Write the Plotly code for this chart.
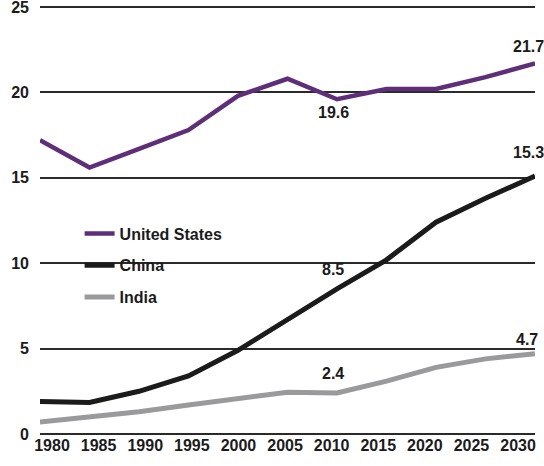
import plotly.graph_objects as go

years = [1980, 1985, 1990, 1995, 2000, 2005, 2010, 2015, 2020, 2025, 2030]
us = [17.2, 15.6, 16.7, 17.8, 19.8, 20.8, 19.6, 20.2, 20.2, 20.9, 21.7]
china = [1.9, 1.85, 2.5, 3.4, 4.9, 6.7, 8.5, 10.2, 12.4, 13.8, 15.1]
india = [0.7, 1.0, 1.3, 1.7, 2.1, 2.45, 2.4, 3.1, 3.9, 4.4, 4.7]
tick_years = [1980, 1985, 1990, 1995, 2000, 2005, 2010, 2015, 2020, 2025, 2030]
y_ticks = [0, 5, 10, 15, 20, 25]

labels = [
    (2030, 21.7, "21.7", -7, 17),
    (2010, 19.6, "19.6", -4, -13),
    (2030, 15.1, "15.3", -7, 24),
    (2010, 8.5, "8.5", -4, 19),
    (2010, 2.4, "2.4", -4, 20),
    (2030, 4.7, "4.7", -8, 14),
]

font = "Liberation Sans, Arial, Helvetica, sans-serif"
fs = 16
fig = go.Figure()
series = [("United States", us, "#5e2f78", 4.5),
          ("China", china, "#1b1b1b", 5),
          ("India", india, "#9a9a9c", 5)]
for name, vals, col, w in series:
    fig.add_trace(go.Scatter(x=years, y=vals, mode="lines", name=name,
                             legendgroup=name,
                             line=dict(color=col, width=w)))

# invisible trace to carry the label axis
fig.add_trace(go.Scatter(x=tick_years, y=[None] * len(tick_years), xaxis="x2",
                         showlegend=False, hoverinfo="skip", mode="lines"))

for x, y, t, xs, ys in labels:
    fig.add_annotation(x=x, y=y, text="<b>%s</b>" % t, showarrow=False,
                       xshift=xs, yshift=ys,
                       font=dict(family=font, size=fs, color="#1b1b1b"))

bold = dict(family=font, size=fs, color="#1b1b1b", weight="bold")
fig.update_layout(
    width=544, height=466,
    margin=dict(l=40, r=9, t=5, b=32),
    paper_bgcolor="white", plot_bgcolor="white",
    font=dict(family=font, size=fs, color="#1b1b1b"),
    showlegend=True,
    legend=dict(x=0.08, y=0.507, xanchor="left", yanchor="top",
                bgcolor="rgba(0,0,0,0)", tracegroupgap=8, itemwidth=30,
                font=bold),
    xaxis=dict(range=[1980, 2030], showticklabels=False, showgrid=False,
               zeroline=False, showline=False, ticks="", automargin=False),
    xaxis2=dict(range=[1978.71, 2031.82], overlaying="x", side="bottom",
                tickvals=tick_years, ticktext=[str(v) for v in tick_years],
                showgrid=False, zeroline=False, showline=False, ticks="",
                automargin=False, tickfont=bold),
    yaxis=dict(range=[0, 25.12], tickvals=y_ticks, showgrid=True,
               gridcolor="#2a2a2a", gridwidth=1.6, zeroline=True,
               zerolinecolor="#2a2a2a", zerolinewidth=1.6,
               showline=False, ticks="", ticklabelstandoff=10,
               ticklabeloverflow="allow", automargin=False,
               tickfont=bold),
)
fig.write_html("out.html")
